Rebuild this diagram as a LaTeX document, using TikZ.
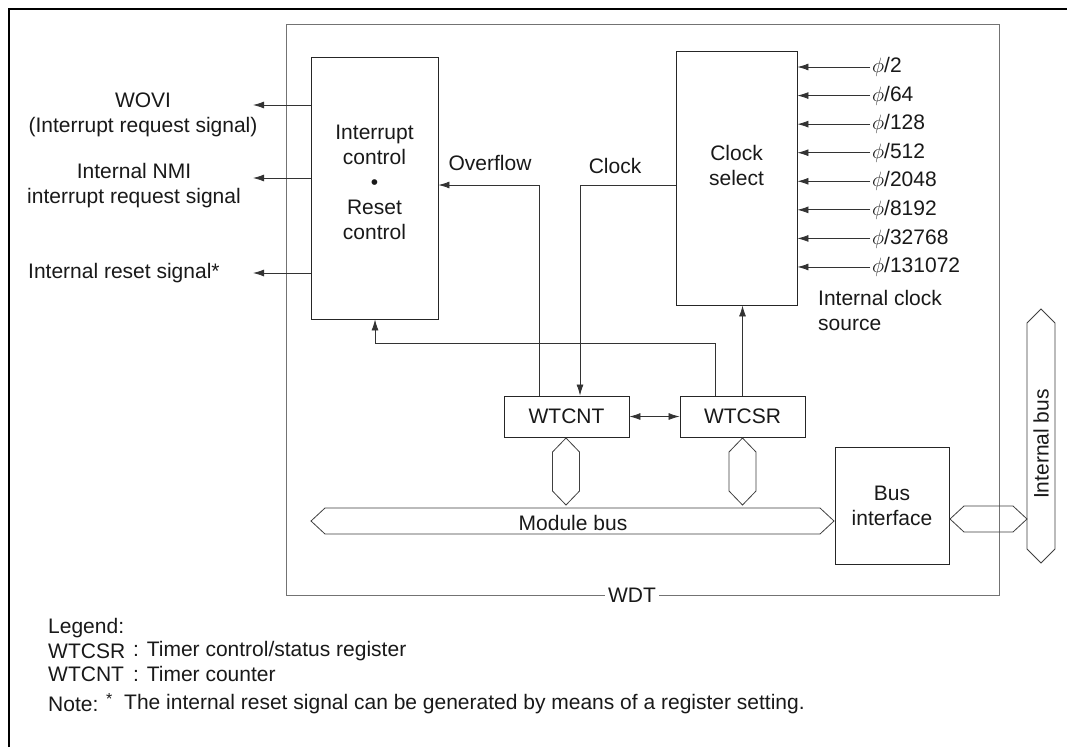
\documentclass[tikz,border=0pt]{standalone}
\usepackage{fontspec}
\setmainfont{Liberation Sans}
\usetikzlibrary{arrows.meta,calc,positioning}
% vertical bus: x, top tip, bottom tip, half width
\newcommand{\drawvbus}[4]{%
  \draw[bus] (#1,#2) -- ({#1+#4},{#2+14}) -- ({#1+#4},{#3-14}) -- (#1,#3)
    -- ({#1-#4},{#3-14}) -- ({#1-#4},{#2+14}) -- cycle;}
% horizontal bus: y, left tip, right tip, half height
\newcommand{\drawhbus}[4]{%
  \draw[bus] (#2,#1) -- ({#2+14},{#1-#4}) -- ({#3-14},{#1-#4}) -- (#3,#1)
    -- ({#3-14},{#1+#4}) -- ({#2+14},{#1+#4}) -- cycle;}

\begin{document}
\begin{tikzpicture}[x=1pt, y=-1pt,
  >={Latex[length=11pt,width=7pt]},
  every node/.style={font=\fontsize{21}{25}\selectfont, text=black!90},
  txt/.style={align=center, inner sep=1pt},
  blk/.style={draw=black!85, line width=0.9pt, inner sep=0pt, align=center},
  arr/.style={->, draw=black!80, line width=0.8pt},
  dbl/.style={<->, draw=black!80, line width=0.8pt},
  bus/.style={draw=black!75, line width=0.8pt},
  wdt/.style={draw=black!55, line width=0.9pt},
  frame/.style={draw=black, line width=2.5pt},
  leg/.style={anchor=west, inner sep=0pt},
]
\useasboundingbox[fill=white] (0,0) rectangle (1067,747);
\draw[frame] (9,747) -- (9,9) -- (1067,9);

% WDT module
\draw[wdt] (286,24) rectangle (999,595);
\node[fill=white, inner sep=3pt] (wdtlbl) at (632,595) {WDT};

% blocks
\node[blk, minimum width=127pt, minimum height=262pt] (intc) at (374.5,188) {};
\node[txt] (intctxt) at (374.5,182) {Interrupt\\control\\\textbullet\\Reset\\control};
\node[blk, minimum width=121pt, minimum height=254pt] (clksel) at (736.5,178) {};
\node[txt] (clkseltxt) at (736.5,165) {Clock\\select};
\node[blk, minimum width=125pt, minimum height=41pt] (wtcnt) at (566.5,416.5) {WTCNT};
\node[blk, minimum width=125pt, minimum height=41pt] (wtcsr) at (742.5,416.5) {WTCSR};
\node[blk, minimum width=114pt, minimum height=117pt] (busif) at (892,505.5) {Bus\\interface};

% clock sources
\foreach \d [count=\i from 0] in {2,64,128,512,2048,8192,32768,131072} {
  \node[anchor=west, inner sep=2pt] (phi\i) at (870,{67+28.57*\i}) {$\phi$/\d};
  \draw[arr] (phi\i.west) -- (clksel.east |- phi\i.west);
}
\node[anchor=west, align=left, inner sep=1pt] (srclbl) at (817,310.5) {Internal clock\\source};

% outputs
\coordinate (wovi) at (253,105);
\coordinate (nmi) at (253,178);
\coordinate (rsto) at (253,273);
\foreach \c in {wovi,nmi,rsto} \draw[arr] (intc.west |- \c) -- (\c);
\node[txt] (wovilbl) at (143,115) {WOVI\\(Interrupt request signal)};
\node[txt] (nmilbl) at (134,186) {Internal NMI\\interrupt request signal};
\node[anchor=west, inner sep=1pt] (rstlbl) at (27,273) {Internal reset signal*};

% internal connections
\coordinate (ovf) at (539,185);
\coordinate (clk) at (580,185);
\coordinate (rst) at (715,343);
\coordinate (rstin) at (375,343);
\draw[arr] (wtcnt.north -| ovf) |- (intc.east |- ovf);
\draw[arr] (clksel.west |- clk) -| (wtcnt.north -| clk);
\draw[arr] (wtcsr.north -| rst) |- (rstin) -- (intc.south -| rstin);
\draw[arr] (wtcsr.north) -- (wtcsr.north |- clksel.south);
\draw[dbl] (wtcnt.east) -- (wtcsr.west);
\node[txt] (ovflbl) at (490,163) {Overflow};
\node[txt] (clklbl) at (615,166) {Clock};

% buses
\drawvbus{566}{438}{505}{13.5}
\drawvbus{742.5}{438}{505}{13.5}
\drawhbus{521}{311}{834}{13}
\node[txt] (mbuslbl) at (573,523) {Module bus};
\drawhbus{519}{950}{1027}{13}
\drawvbus{1041}{309}{563}{14}
\node[txt, rotate=90] (ibuslbl) at (1041,444) {Internal bus};

% legend
\node[leg] (legend) at (48,628) {Legend:};
\node[leg] (legcsr) at (48,651) {WTCSR};
\node[leg] (legcsrd) at (133,651) {: Timer control/status register};
\node[leg] (legcnt) at (48,674) {WTCNT};
\node[leg] (legcntd) at (133,674) {: Timer counter};
\node[leg] (note) at (48,704) {Note:};
\node[leg, font=\fontsize{16}{18}\selectfont] (notestar) at (106,699) {*};
\node[leg] (notetxt) at (124,704) {The internal reset signal can be generated by means of a register setting.};
\end{tikzpicture}
\end{document}
